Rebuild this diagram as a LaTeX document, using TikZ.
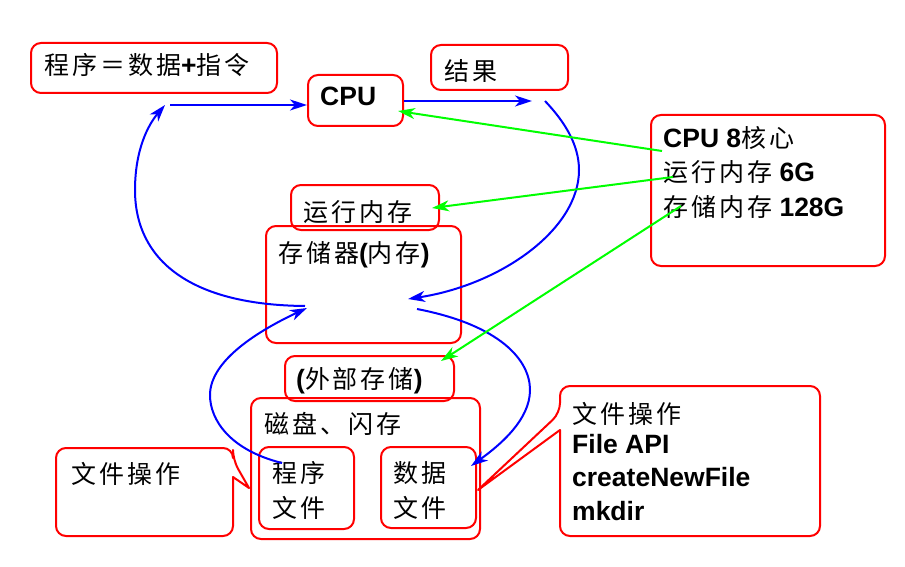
\documentclass[tikz,border=0pt]{standalone}
\usepackage{fontspec}
\setmainfont{Liberation Sans}
\newfontfamily\cjk[LetterSpace=12,Scale=0.943]{Noto Sans CJK SC}
\newcommand\zh[1]{{\cjk\mdseries #1}}
\usetikzlibrary{arrows.meta}
\begin{document}
\begin{tikzpicture}[x=1pt,y=-1pt,
 box/.style={draw=red, line width=2pt, rounded corners=10pt, inner sep=0pt, anchor=north west},
 txt/.style={anchor=base west, inner sep=0pt, font=\fontsize{26.5}{34}\selectfont\bfseries},
 blu/.style={draw=blue, line width=2pt, -{Stealth[length=17pt,width=11pt,inset=5pt]}},
 grn/.style={draw=green, line width=2pt, -{Stealth[length=17pt,width=11pt,inset=5pt]}},
 callout/.style={draw=red, line width=2pt, line join=round}]
\useasboundingbox (0,0) rectangle (905,567);
\fill[white] (0,0) rectangle (905,567);

% boxes
\node[box, minimum width=246pt, minimum height=50pt] (prog) at (30,42) {};
\node[box, minimum width=95pt, minimum height=51pt] (cpu) at (307,74) {};
\node[box, minimum width=137pt, minimum height=45pt] (res) at (430,44) {};
\node[box, minimum width=234pt, minimum height=151pt] (spec) at (650,114) {};
\node[box, minimum width=195pt, minimum height=117pt] (mem) at (265,225) {};
\node[box, minimum width=148pt, minimum height=45pt] (run) at (290,184) {};
\node[box, minimum width=169pt, minimum height=45pt] (ext) at (284,355) {};
\node[box, minimum width=229pt, minimum height=141pt] (disk) at (250,397) {};
\node[box, minimum width=95pt, minimum height=82pt] (pf) at (258,446) {};
\node[box, minimum width=95pt, minimum height=81pt] (df) at (380,446) {};

% callouts
\draw[callout] (249,488) -- (233,477) [rounded corners=10pt] -- (233,536) -- (56,536) -- (56,448) -- (233,448) -- (233,460) [sharp corners] -- cycle;
\draw[callout] (478,490) -- (560,430) [rounded corners=10pt] -- (560,536) -- (820,536) -- (820,386) -- (560,386) -- (560,413) [sharp corners] -- cycle;

% texts
\node[txt] (tprog) at (44,75) {\zh{程序＝数据}+\zh{指令}};
\node[txt] (tcpu) at (320,106) {CPU};
\node[txt] (tres) at (444,81) {\zh{结果}};
\node[txt] (ts1) at (663,147) {CPU 8\zh{核心}};
\node[txt] (ts2) at (663,182) {\zh{运行内存} 6G};
\node[txt] (ts3) at (663,216) {\zh{存储内存} 128G};
\node[txt] (trun) at (303,221) {\zh{运行内存}};
\node[txt] (tmem) at (278,262) {\zh{存储器}(\zh{内存})};
\node[txt] (text) at (296,388) {(\zh{外部存储})};
\node[txt] (tdisk) at (264,433) {\zh{磁盘、闪存}};
\node[txt] (tpf1) at (272,482) {\zh{程序}};
\node[txt] (tpf2) at (272,517) {\zh{文件}};
\node[txt] (tdf1) at (393,482) {\zh{数据}};
\node[txt] (tdf2) at (393,517) {\zh{文件}};
\node[txt] (tlc) at (71,483) {\zh{文件操作}};
\node[txt] (trc1) at (572,423) {\zh{文件操作}};
\node[txt] (trc2) at (572,453) {File API};
\node[txt] (trc3) at (572,486) {createNewFile};
\node[txt] (trc4) at (572,520) {mkdir};

% coordinates
\coordinate (a1s) at (170,105);
\coordinate (a2e) at (532,101);
\coordinate (a3s) at (545,101);
\coordinate (a3e) at (408,299);
\coordinate (a4s) at (305,306);
\coordinate (a4e) at (165,105);
\coordinate (a5s) at (282,463);
\coordinate (a5e) at (307,308);
\coordinate (a6s) at (417,309);
\coordinate (a6e) at (471,466);
\coordinate (g1s) at (662,151);
\coordinate (g1e) at (398,111);
\coordinate (g2s) at (673,177);
\coordinate (g2e) at (432,208);
\coordinate (g3s) at (681,206);
\coordinate (g3e) at (441,361);

% blue arrows
\draw[blu] (a1s) -- (a1s -| cpu.west);
\draw[blu] (a2e -| cpu.east) -- (a2e);
\draw[blu] (a3s) .. controls (565,122) and (579,145) .. (579,170) .. controls (579,230) and (500,285) .. (a3e);
\draw[blu] (a4s) .. controls (190,305) and (135,260) .. (135,190) .. controls (135,150) and (148,125) .. (a4e);
\draw[blu] (a5s) .. controls (230,450) and (210,420) .. (210,395) .. controls (210,360) and (260,330) .. (a5e);
\draw[blu] (a6s) .. controls (500,325) and (530,360) .. (530,390) .. controls (530,420) and (500,445) .. (a6e);

% green arrows
\draw[grn] (g1s) -- (g1e);
\draw[grn] (g2s) -- (g2e);
\draw[grn] (g3s) -- (g3e);
\end{tikzpicture}
\end{document}
